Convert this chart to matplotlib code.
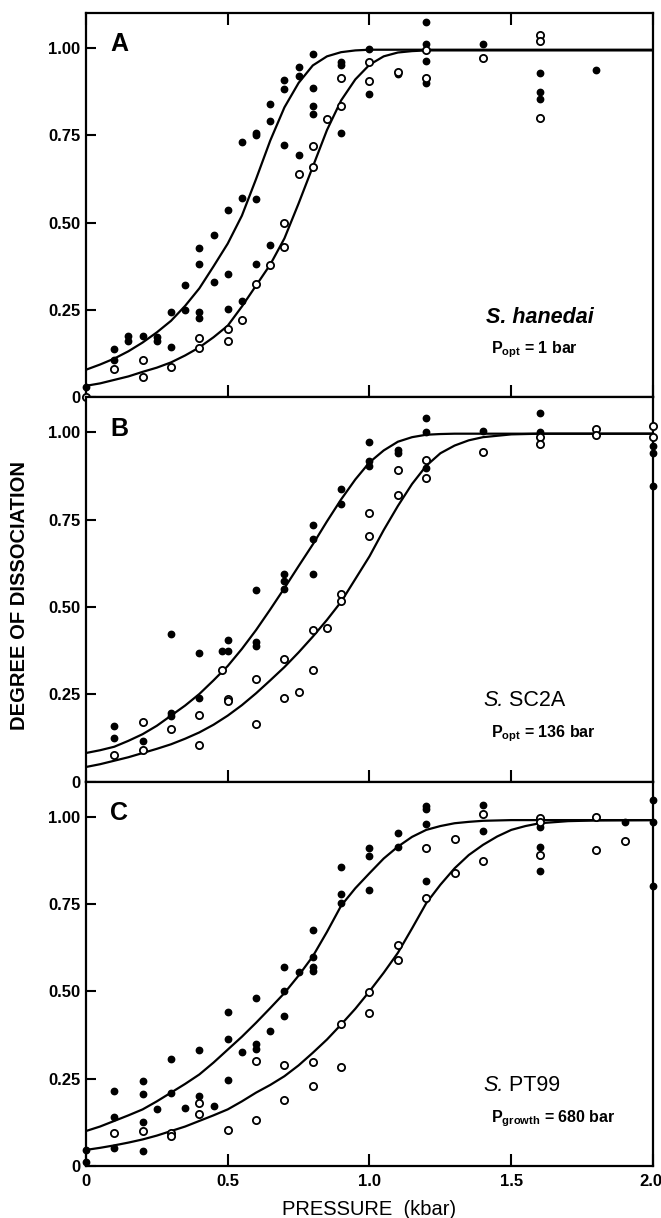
import numpy as np
import matplotlib
matplotlib.use("Agg")
import matplotlib.pyplot as plt
from matplotlib.transforms import ScaledTranslation

plt.rcParams['font.family'] = ['Liberation Sans', 'DejaVu Sans']
plt.rcParams['mathtext.fontset'] = 'custom'
plt.rcParams['mathtext.rm'] = 'Liberation Sans'
plt.rcParams['mathtext.bf'] = 'Liberation Sans:bold'
plt.rcParams['mathtext.it'] = 'Liberation Sans:italic'

# ---- panel A : S. hanedai ----
a_fill_p = [0, 0.1, 0.1, 0.15, 0.15, 0.2, 0.25, 0.25, 0.3, 0.3, 0.35, 0.35, 0.4, 0.4, 0.4, 0.4,
            0.45, 0.45, 0.5, 0.5, 0.5, 0.55, 0.55, 0.55, 0.6, 0.6, 0.6, 0.6, 0.65, 0.65, 0.65,
            0.7, 0.7, 0.7, 0.75, 0.75, 0.75, 0.8, 0.8, 0.8, 0.8, 0.9, 0.9, 0.9, 1.0, 1.0, 1.1,
            1.2, 1.2, 1.2, 1.2, 1.4, 1.6, 1.6, 1.6, 1.8]
a_fill_v = [0.03, 0.138, 0.108, 0.175, 0.16, 0.176, 0.174, 0.162, 0.243, 0.143, 0.322, 0.25, 0.428, 0.381, 0.245, 0.226,
            0.466, 0.33, 0.535, 0.352, 0.252, 0.731, 0.57, 0.277, 0.757, 0.75, 0.569, 0.381, 0.841, 0.792, 0.435,
            0.907, 0.883, 0.721, 0.945, 0.921, 0.694, 0.982, 0.886, 0.835, 0.81, 0.959, 0.95, 0.757, 0.998, 0.867, 0.925,
            1.074, 1.01, 0.962, 0.90, 1.01, 0.927, 0.873, 0.855, 0.936]
a_open_p = [0, 0.1, 0.2, 0.2, 0.3, 0.4, 0.4, 0.5, 0.5, 0.55, 0.6, 0.65, 0.7, 0.7, 0.75, 0.8, 0.8, 0.85,
            0.9, 0.9, 1.0, 1.0, 1.1, 1.2, 1.2, 1.4, 1.6, 1.6, 1.6]
a_open_v = [0, 0.081, 0.108, 0.057, 0.086, 0.171, 0.141, 0.197, 0.162, 0.222, 0.324, 0.38, 0.50, 0.431, 0.638, 0.719, 0.659, 0.798,
            0.914, 0.833, 0.959, 0.905, 0.93, 0.995, 0.914, 0.971, 1.038, 1.019, 0.80]
a_curve_p = [0, 0.05, 0.1, 0.15, 0.2, 0.25, 0.3, 0.35, 0.4, 0.45, 0.5, 0.55, 0.6, 0.65, 0.7, 0.75,
             0.8, 0.85, 0.9, 0.95, 1.0, 1.05, 1.1, 1.15, 1.2, 2.0]
a_curve_fill = [0.079, 0.094, 0.111, 0.132, 0.157, 0.186, 0.219, 0.262, 0.312, 0.375, 0.44, 0.52, 0.625, 0.735, 0.83, 0.90,
                0.95, 0.976, 0.988, 0.993, 0.995, 0.995, 0.995, 0.995, 0.995, 0.995]
a_curve_open = [0.033, 0.04, 0.05, 0.06, 0.073, 0.085, 0.10, 0.12, 0.143, 0.172, 0.205, 0.26, 0.32, 0.38, 0.455, 0.555,
                0.66, 0.765, 0.85, 0.91, 0.952, 0.976, 0.987, 0.991, 0.993, 0.993]

# ---- panel B : S. SC2A ----
b_fill_p = [0.1, 0.1, 0.2, 0.3, 0.3, 0.3, 0.4, 0.4, 0.48, 0.5, 0.5, 0.6, 0.6, 0.6, 0.7, 0.7, 0.7,
            0.8, 0.8, 0.8, 0.9, 0.9, 1.0, 1.0, 1.0, 1.1, 1.1, 1.2, 1.2, 1.2, 1.4, 1.6, 1.6, 2.0, 2.0, 2.0]
b_fill_v = [0.16, 0.125, 0.117, 0.424, 0.196, 0.189, 0.369, 0.239, 0.374, 0.374, 0.405, 0.549, 0.40, 0.388, 0.595, 0.573, 0.551,
            0.736, 0.695, 0.595, 0.837, 0.796, 0.971, 0.918, 0.904, 0.95, 0.94, 1.04, 1.0, 0.899, 1.003, 1.056, 1.0, 0.962, 0.94, 0.845]
b_open_p = [0.1, 0.2, 0.2, 0.3, 0.4, 0.4, 0.48, 0.5, 0.5, 0.6, 0.6, 0.7, 0.7, 0.75, 0.8, 0.8, 0.85,
            0.9, 0.9, 1.0, 1.0, 1.1, 1.1, 1.2, 1.2, 1.4, 1.6, 1.6, 1.8, 1.8, 2.0, 2.0]
b_open_v = [0.077, 0.17, 0.091, 0.151, 0.192, 0.106, 0.32, 0.237, 0.23, 0.293, 0.165, 0.352, 0.239, 0.258, 0.434, 0.32, 0.44,
            0.536, 0.517, 0.768, 0.702, 0.892, 0.821, 0.921, 0.868, 0.945, 0.986, 0.966, 1.01, 0.993, 1.019, 0.986]
b_curve_p = [0, 0.05, 0.1, 0.15, 0.2, 0.25, 0.3, 0.35, 0.4, 0.45, 0.5, 0.55, 0.6, 0.65, 0.7, 0.75, 0.8, 0.85,
             0.9, 0.95, 1.0, 1.05, 1.1, 1.15, 1.2, 1.25, 1.3, 1.35, 1.4, 1.5, 1.6, 2.0]
b_curve_fill = [0.082, 0.09, 0.10, 0.117, 0.136, 0.16, 0.189, 0.218, 0.251, 0.29, 0.331, 0.38, 0.434, 0.493, 0.554, 0.617, 0.679, 0.745,
                0.808, 0.865, 0.914, 0.948, 0.973, 0.986, 0.993, 0.995, 0.996, 0.996, 0.996, 0.996, 0.996, 0.996]
b_curve_open = [0.042, 0.05, 0.06, 0.07, 0.082, 0.094, 0.107, 0.123, 0.141, 0.163, 0.189, 0.219, 0.253, 0.29, 0.328, 0.37, 0.415, 0.463,
                0.515, 0.58, 0.645, 0.72, 0.789, 0.852, 0.904, 0.94, 0.962, 0.977, 0.986, 0.994, 0.996, 0.996]

# ---- panel C : S. PT99 ----
c_fill_p = [0, 0, 0.1, 0.1, 0.1, 0.2, 0.2, 0.2, 0.2, 0.25, 0.3, 0.3, 0.35, 0.4, 0.4, 0.45, 0.5, 0.5, 0.5,
            0.55, 0.6, 0.6, 0.6, 0.65, 0.7, 0.7, 0.7, 0.75, 0.8, 0.8, 0.8, 0.8, 0.9, 0.9, 0.9,
            1.0, 1.0, 1.0, 1.1, 1.1, 1.2, 1.2, 1.2, 1.2, 1.4, 1.4, 1.6, 1.6, 1.6, 1.9, 2.0, 2.0, 2.0]
c_fill_v = [0.046, 0.01, 0.216, 0.14, 0.052, 0.242, 0.207, 0.126, 0.043, 0.164, 0.305, 0.208, 0.167, 0.333, 0.20, 0.173, 0.44, 0.364, 0.245,
            0.326, 0.481, 0.348, 0.335, 0.386, 0.57, 0.50, 0.429, 0.554, 0.676, 0.598, 0.569, 0.557, 0.857, 0.778, 0.752,
            0.911, 0.886, 0.79, 0.954, 0.912, 1.03, 1.021, 0.978, 0.816, 1.033, 0.96, 0.97, 0.912, 0.843, 0.986, 1.048, 0.986, 0.80]
c_open_p = [0.1, 0.2, 0.3, 0.3, 0.4, 0.4, 0.5, 0.6, 0.6, 0.7, 0.7, 0.8, 0.8, 0.9, 0.9, 1.0, 1.0, 1.1, 1.1,
            1.2, 1.2, 1.3, 1.3, 1.4, 1.4, 1.6, 1.6, 1.6, 1.8, 1.8, 1.9]
c_open_v = [0.095, 0.10, 0.095, 0.086, 0.181, 0.148, 0.103, 0.30, 0.133, 0.29, 0.189, 0.297, 0.23, 0.405, 0.283, 0.497, 0.438, 0.633, 0.589,
            0.91, 0.767, 0.935, 0.84, 1.008, 0.874, 0.995, 0.986, 0.89, 1.0, 0.905, 0.931]
c_curve_p = [0, 0.05, 0.1, 0.15, 0.2, 0.25, 0.3, 0.35, 0.4, 0.45, 0.5, 0.55, 0.6, 0.65, 0.7, 0.75, 0.8, 0.85,
             0.9, 0.95, 1.0, 1.05, 1.1, 1.15, 1.2, 1.25, 1.3, 1.35, 1.4, 1.45, 1.5, 1.55, 1.6, 1.7, 1.8, 2.0]
c_curve_fill = [0.10, 0.113, 0.129, 0.145, 0.162, 0.185, 0.21, 0.235, 0.262, 0.296, 0.333, 0.37, 0.41, 0.452, 0.495, 0.545, 0.60, 0.67,
                0.745, 0.795, 0.838, 0.88, 0.914, 0.942, 0.962, 0.973, 0.981, 0.985, 0.988, 0.989, 0.99, 0.99, 0.99, 0.99, 0.99, 0.99]
c_curve_open = [0.046, 0.052, 0.059, 0.067, 0.076, 0.087, 0.10, 0.113, 0.129, 0.145, 0.162, 0.185, 0.21, 0.232, 0.257, 0.288, 0.324, 0.362,
                0.405, 0.45, 0.50, 0.553, 0.61, 0.68, 0.752, 0.805, 0.852, 0.89, 0.919, 0.943, 0.962, 0.973, 0.981, 0.987, 0.989, 0.99]

letters = ["A", "B", "C"]
species_rest = ["hanedai", "SC2A", "PT99"]
p_labels = [r"$\mathbf{P}_{\mathbf{opt}}$ = 1 bar",
            r"$\mathbf{P}_{\mathbf{opt}}$ = 136 bar",
            r"$\mathbf{P}_{\mathbf{growth}}$ = 680 bar"]
ytick_vals = [0, 0.25, 0.5, 0.75, 1.0]
ytick_labels = ["0", "0.25", "0.50", "0.75", "1.00"]
xtick_vals = [0, 0.5, 1.0, 1.5, 2.0]
xtick_labels = ["0", "0.5", "1.0", "1.5", "2.0"]

panels = [
    (a_fill_p, a_fill_v, a_open_p, a_open_v, a_curve_p, a_curve_fill, a_curve_open),
    (b_fill_p, b_fill_v, b_open_p, b_open_v, b_curve_p, b_curve_fill, b_curve_open),
    (c_fill_p, c_fill_v, c_open_p, c_open_v, c_curve_p, c_curve_fill, c_curve_open),
]

fig, axes = plt.subplots(3, 1, figsize=(6.61, 12.18), dpi=100, sharex=True,
                         gridspec_kw=dict(hspace=0))
fig.subplots_adjust(left=0.130, right=0.988, top=0.9893, bottom=0.0427)

for i, ax in enumerate(axes):
    fp, fv, op, ov, cp, cf, co = panels[i]
    ax.plot(cp, cf, color="black", lw=1.6, zorder=2)
    ax.plot(cp, co, color="black", lw=1.6, zorder=2)
    ax.plot(fp, fv, "o", color="black", ms=4.6, zorder=3, clip_on=False)
    ax.plot(op, ov, "o", mfc="white", mec="black", mew=1.3, ms=5.2, zorder=4, clip_on=False)

    ax.set_xlim(0, 2.0)
    ax.set_ylim(0, 1.1)
    for s in ax.spines.values():
        s.set_linewidth(1.6)

    ax.set_yticks(ytick_vals)
    ax.set_yticklabels(ytick_labels, fontsize=12, fontweight="bold")
    ax.tick_params(axis="y", direction="in", length=7, width=1.5, pad=4, left=True, right=False)
    ax.set_xticks(xtick_vals)
    ax.tick_params(axis="x", direction="in", length=8.5, width=1.5, pad=6,
                   top=(i == 0), bottom=True)

    ax.text(0.085, 0.99, letters[i], fontsize=18, fontweight="bold", ha="left", va="baseline")

    if i == 0:
        ax.text(1.41, 0.214, "S. hanedai", fontsize=15.5, fontweight="bold", style="italic",
                ha="left", va="baseline")
    else:
        t = ax.text(1.40, 0.216, "S.", fontsize=15.5, style="italic",
                    ha="left", va="baseline")
        ax.annotate(" " + species_rest[i], xy=(1, 0), xycoords=t, fontsize=15.5,
                    ha="left", va="bottom")
    ax.text(1.43, 0.126, p_labels[i], fontsize=11.5, fontweight="bold", ha="left", va="baseline")

axes[-1].set_xticklabels(xtick_labels, fontsize=12, fontweight="bold")
axes[-1].set_xlabel("PRESSURE  (kbar)", fontsize=14.5, labelpad=8)

# last tick label sits at the right edge; keep it inside the canvas
last = axes[-1].get_xticklabels()[-1]
last.set_horizontalalignment("right")
last.set_transform(last.get_transform() + ScaledTranslation(7 / 72, 0, fig.dpi_scale_trans))

fig.text(0.030, 0.511, "DEGREE OF DISSOCIATION", rotation=90, fontsize=14.5,
         fontweight="bold", ha="center", va="center")

fig.savefig("out.png", dpi=100)
